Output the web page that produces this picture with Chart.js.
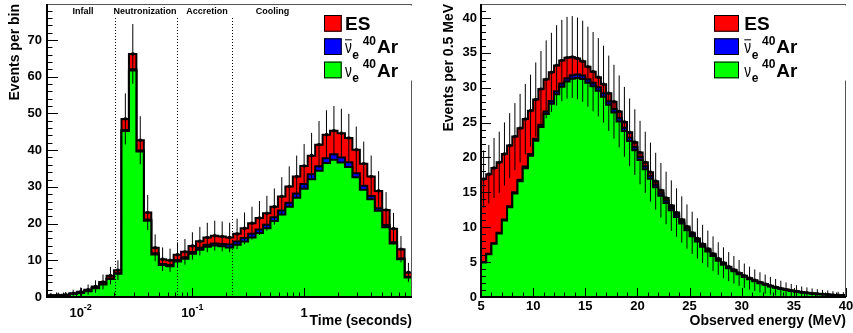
<!DOCTYPE html>
<html>
<head>
<meta charset="utf-8">
<script src="https://cdn.jsdelivr.net/npm/chart.js@4.4.1/dist/chart.umd.min.js"></script>
<style>
html, body { margin: 0; padding: 0; background: #fff; }
#wrap { position: relative; width: 853px; height: 333px; overflow: hidden; }
canvas { position: absolute; top: 0; }
</style>
</head>
<body>
<div id="wrap">
  <canvas id="timeChart" width="420" height="333" style="left:0"></canvas>
  <canvas id="energyChart" width="433" height="333" style="left:420px"></canvas>
</div>
<script>
// ---- time panel: 15 log bins per decade starting at 5 ms ----
const timeMin = 0.005;
const timeBinsPerDecade = 15;
const timeNue = [0.35, 0.4, 0.48, 0.8, 1.12, 1.6, 2.35, 3.4, 4.9, 6.3,
  45.2, 61.7, 39.6, 20.8, 11.6, 8.7, 8.4, 9.7, 10.4, 11.8,
  12.9, 13.7, 14.0, 13.8, 13.5, 14.2, 15.1, 16.2, 17.4, 18.7,
  20.7, 22.5, 24.6, 27.0, 29.5, 32.1, 34.4, 36.5, 37.4, 36.6,
  35.4, 32.6, 29.2, 26.6, 23.5, 19.0, 14.6, 10.3, 5.3];
const timeNuebar = [0.02, 0.02, 0.02, 0.03, 0.04, 0.05, 0.07, 0.1, 0.12, 0.15,
  0.3, 0.3, 0.3, 0.3, 0.3, 0.3, 0.3, 0.35, 0.4, 0.45,
  0.5, 0.55, 0.6, 0.65, 0.8, 0.9, 0.95, 1.0, 1.0, 1.0,
  1.0, 1.05, 1.1, 1.2, 1.3, 1.3, 1.2, 1.3, 1.5, 1.4,
  1.3, 1.1, 1.1, 0.9, 0.7, 0.6, 0.3, 0.2, 0.2];
const timeES = [0.08, 0.08, 0.1, 0.17, 0.24, 0.35, 0.43, 0.6, 0.78, 0.85,
  3.0, 4.2, 2.8, 1.9, 1.5, 1.3, 1.3, 1.45, 1.5, 1.65,
  1.8, 1.95, 2.1, 2.05, 1.9, 2.1, 2.65, 2.9, 3.1, 3.1,
  2.9, 3.85, 4.4, 4.6, 4.9, 5.1, 5.9, 6.4, 6.4, 6.6,
  6.6, 6.4, 6.0, 5.3, 4.7, 4.1, 3.7, 2.5, 1.2];
const phaseNames = ['Infall', 'Neutronization', 'Accretion', 'Cooling'];
const phaseLabelAt = [0.0105, 0.0377, 0.135, 0.522];
const phaseBounds = [0.0203, 0.073, 0.228];
const timeTickValues = [0.01, 0.1, 1];
const timeTickBase = ['10', '10', '1'];
const timeTickExp = ['-2', '-1', ''];

// ---- energy panel: 0.5 MeV bins from 5 to 40 MeV ----
const energyMin = 5;
const energyBin = 0.5;
const energyNue = [4.95, 6.14, 7.62, 9.1, 10.98, 12.85, 14.82, 16.6, 18.47, 20.24,
  22.4, 24.37, 26.24, 27.7, 29.08, 30.15, 30.88, 31.3, 31.4, 31.25,
  30.7, 30.2, 29.55, 28.7, 27.55, 26.45, 25.17, 23.78, 22.36, 21.05,
  19.63, 18.3, 16.96, 15.73, 14.5, 13.46, 12.42, 11.47, 10.52, 9.57,
  8.72, 7.96, 7.2, 6.54, 5.88, 5.21, 4.64, 4.12, 3.69, 3.26,
  2.88, 2.55, 2.26, 1.98, 1.75, 1.51, 1.32, 1.15, 0.99, 0.86,
  0.75, 0.64, 0.56, 0.48, 0.42, 0.36, 0.32, 0.27, 0.23, 0.2];
const energyNuebar = [0.05, 0.06, 0.08, 0.1, 0.12, 0.15, 0.18, 0.2, 0.23, 0.26,
  0.3, 0.33, 0.36, 0.4, 0.42, 0.45, 0.47, 0.5, 0.5, 0.5,
  0.5, 0.5, 0.5, 0.5, 0.5, 0.5, 0.48, 0.47, 0.46, 0.45,
  0.44, 0.43, 0.42, 0.4, 0.38, 0.36, 0.34, 0.32, 0.3, 0.28,
  0.26, 0.24, 0.22, 0.2, 0.18, 0.16, 0.14, 0.13, 0.12, 0.11,
  0.1, 0.09, 0.08, 0.07, 0.06, 0.055, 0.05, 0.045, 0.04, 0.035,
  0.03, 0.027, 0.024, 0.02, 0.018, 0.016, 0.014, 0.012, 0.01, 0.01];
const energyES = [11.9, 11.4, 10.8, 10.1, 9.4, 8.7, 8.0, 7.4, 6.8, 6.2,
  5.6, 5.1, 4.6, 4.1, 3.7, 3.3, 2.95, 2.6, 2.3, 2.05,
  1.8, 1.6, 1.45, 1.3, 1.15, 1.05, 0.95, 0.85, 0.78, 0.7,
  0.63, 0.57, 0.52, 0.47, 0.42, 0.38, 0.34, 0.31, 0.28, 0.25,
  0.22, 0.2, 0.18, 0.16, 0.14, 0.13, 0.12, 0.1, 0.09, 0.08,
  0.07, 0.065, 0.06, 0.05, 0.045, 0.04, 0.035, 0.03, 0.028, 0.025,
  0.022, 0.02, 0.018, 0.016, 0.014, 0.012, 0.011, 0.01, 0.009, 0.008];

const FONT = '"Liberation Sans", Arial, Helvetica, sans-serif';
const RED = '#ff0000', BLUE = '#0000ff', GREEN = '#00ff00';
Chart.defaults.font.family = FONT;
Chart.defaults.color = '#000';

const timeEdges = [];
for (let k = 0; k <= timeNue.length; k++) timeEdges.push(timeMin * Math.pow(10, k / timeBinsPerDecade));
const energyEdges = [];
for (let k = 0; k <= energyNue.length; k++) energyEdges.push(energyMin + k * energyBin);

function addArr(a, b) { return a.map((v, i) => v + b[i]); }

// histogram outline as step points, closed down to zero at both ends
function stepPoints(edges, vals) {
  const pts = [{x: edges[0], y: 0}];
  vals.forEach((v, i) => pts.push({x: edges[i], y: v}));
  pts.push({x: edges[vals.length], y: vals[vals.length - 1]});
  pts.push({x: edges[vals.length], y: 0});
  return pts;
}

function histSet(points, color, order) {
  return {
    data: points, stepped: true, fill: 'origin',
    backgroundColor: color, borderColor: '#000', borderWidth: 2,
    pointRadius: 0, order: order
  };
}

function zeroPad(s) { s.paddingLeft = 0; s.paddingRight = 0; s.paddingTop = 0; s.paddingBottom = 0; }

function drawLegend(ctx, lg) {
  ctx.fillStyle = '#fff';
  ctx.fillRect(lg.boxX, 5.5, lg.boxW, 75);
  const cols = [RED, BLUE, GREEN];
  for (let r = 0; r < 3; r++) {
    const top = 15 + r * 23.3;
    ctx.fillStyle = cols[r];
    ctx.fillRect(lg.swX, top, lg.swW, 16.7);
    ctx.strokeStyle = '#000'; ctx.lineWidth = 1;
    ctx.strokeRect(lg.swX + 0.5, top + 0.5, lg.swW - 1, 15.7);
  }
  ctx.fillStyle = '#000';
  ctx.textAlign = 'left'; ctx.textBaseline = 'alphabetic';
  ctx.font = 'bold 19px ' + FONT;
  ctx.fillText('ES', lg.tx, 29.5);
  for (let r = 1; r < 3; r++) {
    const by = 53.3 + (r - 1) * 23.3;
    ctx.font = '19px ' + FONT;
    const nw = ctx.measureText('ν').width * 0.72;
    ctx.save();
    ctx.translate(lg.tx, by); ctx.scale(0.72, 1);
    ctx.fillText('ν', 0, 0);
    ctx.restore();
    if (r === 1) {
      ctx.beginPath(); ctx.lineWidth = 1;
      ctx.moveTo(lg.tx, by - 13.5); ctx.lineTo(lg.tx + nw, by - 13.5); ctx.stroke();
    }
    ctx.font = 'bold 12px ' + FONT;
    ctx.fillText('e', lg.tx + nw + 0.5, by + 5.5);
    ctx.fillText('40', lg.tx + 17.7, by - 8.3);
    ctx.font = 'bold 19px ' + FONT;
    ctx.fillText('Ar', lg.tx + 32, by);
  }
}

function decorPlugin(cfg) {
  return {
    id: 'rootDecor',
    afterDatasetsDraw(chart) {
      const ctx = chart.ctx, xs = chart.scales.x, ys = chart.scales.y, a = chart.chartArea;
      ctx.save();
      // error bars sqrt(N) with markers
      ctx.save();
      ctx.beginPath(); ctx.rect(a.left, a.top, a.right - a.left, a.bottom - a.top); ctx.clip();
      ctx.strokeStyle = '#000'; ctx.fillStyle = '#000'; ctx.lineWidth = 1;
      cfg.totals.forEach((t, i) => {
        const cx = xs.getPixelForValue((cfg.edges[i] + cfg.edges[i + 1]) / 2);
        const err = Math.sqrt(t);
        ctx.beginPath();
        ctx.moveTo(cx, ys.getPixelForValue(t - err));
        ctx.lineTo(cx, ys.getPixelForValue(t + err));
        ctx.stroke();
        ctx.fillRect(cx - 1.5, ys.getPixelForValue(t) - 1.5, 3, 3);
      });
      ctx.restore();

      // phase boundaries
      if (cfg.phases) {
        ctx.save();
        ctx.setLineDash([1, 2]); ctx.strokeStyle = '#000'; ctx.lineWidth = 1;
        phaseBounds.forEach(v => {
          const px = Math.round(xs.getPixelForValue(v)) + 0.5;
          ctx.beginPath(); ctx.moveTo(px, a.top + 14); ctx.lineTo(px, a.bottom); ctx.stroke();
        });
        ctx.restore();
        ctx.font = 'bold 9px ' + FONT; ctx.fillStyle = '#000';
        ctx.textAlign = 'center'; ctx.textBaseline = 'alphabetic';
        phaseNames.forEach((n, i) => ctx.fillText(n, xs.getPixelForValue(phaseLabelAt[i]), a.top + 10));
      }

      // inward tick marks
      ctx.strokeStyle = '#000'; ctx.lineWidth = 1;
      const yMajor = ys.ticks.map(t => t.value);
      for (let k = 0; k * cfg.yMinor <= ys.max + 1e-9; k++) {
        const v = k * cfg.yMinor;
        const major = yMajor.some(m => Math.abs(m - v) < 1e-9);
        const py = Math.round(ys.getPixelForValue(v)) + 0.5;
        ctx.beginPath(); ctx.moveTo(a.left, py); ctx.lineTo(a.left + (major ? cfg.yMajorLen : cfg.yMinorLen), py); ctx.stroke();
      }
      const xTicks = [];
      if (cfg.logX) {
        for (let d = -3; d <= 0; d++) for (let m = 1; m <= 9; m++) xTicks.push({v: m * Math.pow(10, d), major: m === 1});
      } else {
        const xMajor = xs.ticks.map(t => t.value);
        for (let v = xs.min; v <= xs.max + 1e-9; v += cfg.xMinor) xTicks.push({v: v, major: xMajor.some(m => Math.abs(m - v) < 1e-9)});
      }
      xTicks.forEach(t => {
        if (t.v < xs.min - 1e-9 || t.v > xs.max + 1e-9) return;
        const px = Math.round(xs.getPixelForValue(t.v)) + 0.5;
        ctx.beginPath(); ctx.moveTo(px, a.bottom); ctx.lineTo(px, a.bottom - (t.major ? 9 : 4.5)); ctx.stroke();
      });

      // frame
      ctx.strokeStyle = '#555'; ctx.lineWidth = 1;
      ctx.strokeRect(a.left + 0.5, a.top + 0.5, a.right - a.left - 1, a.bottom - a.top - 1);
      ctx.strokeStyle = '#000'; ctx.lineWidth = 2;
      ctx.beginPath(); ctx.moveTo(a.left, a.top); ctx.lineTo(a.left, a.bottom); ctx.lineTo(a.right, a.bottom); ctx.stroke();

      drawLegend(ctx, cfg.legend);

      // log axis labels with exponents
      if (cfg.logX) {
        ctx.fillStyle = '#000'; ctx.textAlign = 'left'; ctx.textBaseline = 'alphabetic';
        timeTickValues.forEach((v, i) => {
          const px = xs.getPixelForValue(v);
          ctx.font = 'bold 13px ' + FONT;
          const wb = ctx.measureText(timeTickBase[i]).width;
          ctx.font = 'bold 9px ' + FONT;
          const we = timeTickExp[i] ? ctx.measureText(timeTickExp[i]).width : 0;
          const x0 = px - (wb + we) / 2;
          ctx.font = 'bold 13px ' + FONT;
          ctx.fillText(timeTickBase[i], x0, a.bottom + 19.7);
          if (we) { ctx.font = 'bold 9px ' + FONT; ctx.fillText(timeTickExp[i], x0 + wb, a.bottom + 12.7); }
        });
      }
      ctx.restore();
    }
  };
}

function makeChart(id, o) {
  const green = o.nue, blue = addArr(o.nue, o.nuebar), total = addArr(blue, o.es);
  return new Chart(document.getElementById(id), {
    type: 'line',
    data: {
      datasets: [
        histSet(stepPoints(o.edges, total), RED, 3),
        histSet(stepPoints(o.edges, blue), BLUE, 2),
        histSet(stepPoints(o.edges, green), GREEN, 1)
      ]
    },
    options: {
      responsive: false, animation: false, events: [],
      layout: {padding: {left: 0, top: 4, right: o.padRight, bottom: 0}},
      plugins: {legend: {display: false}, tooltip: {enabled: false}},
      scales: {
        x: {
          type: o.logX ? 'logarithmic' : 'linear',
          min: o.edges[0], max: o.edges[o.edges.length - 1],
          grid: {display: false, drawTicks: false}, border: {display: false},
          ticks: o.logX ? {display: false} : {stepSize: 5, font: {size: 13, weight: 'bold'}, padding: 2, maxRotation: 0, autoSkip: false},
          title: {display: true, text: o.xTitle, align: 'end', font: {size: 14, weight: 'bold'}, padding: {top: 0, bottom: 3.5}},
          afterFit: s => { s.height = 36; zeroPad(s); }
        },
        y: {
          min: 0, max: o.yMax,
          grid: {display: false, drawTicks: false}, border: {display: false},
          ticks: {stepSize: o.yStep, includeBounds: false, font: {size: 13, weight: 'bold'}, padding: o.yLabelPad},
          title: {display: true, text: o.yTitle, align: 'end', font: {size: 14, weight: 'bold'}, padding: {top: o.yTitlePad, bottom: 0}},
          afterFit: s => { s.width = o.yAxisWidth; zeroPad(s); }
        }
      }
    },
    plugins: [decorPlugin({
      edges: o.edges, totals: total, logX: o.logX, phases: o.logX,
      yMinor: o.yMinor, yMajorLen: o.yMajorLen, yMinorLen: o.yMinorLen, xMinor: 1,
      legend: o.legend
    })]
  });
}

makeChart('timeChart', {
  edges: timeEdges, nue: timeNue, nuebar: timeNuebar, es: timeES, logX: true,
  xTitle: 'Time (seconds)', yTitle: 'Events per bin', yMax: 79.8, yStep: 10, yMinor: 2,
  yMajorLen: 11, yMinorLen: 5.5, yAxisWidth: 47, padRight: 8, yLabelPad: 5, yTitlePad: 7.2,
  legend: {boxX: 318, boxW: 97, swX: 324, swW: 17.7, tx: 345}
});
makeChart('energyChart', {
  edges: energyEdges, nue: energyNue, nuebar: energyNuebar, es: energyES, logX: false,
  xTitle: 'Observed energy (MeV)', yTitle: 'Events per 0.5 MeV', yMax: 42, yStep: 5, yMinor: 1,
  yMajorLen: 10, yMinorLen: 5, yAxisWidth: 61, padRight: 7, yLabelPad: 4, yTitlePad: 21.2,
  legend: {boxX: 288, boxW: 142, swX: 294, swW: 25, tx: 324.3}
});
</script>
</body>
</html>
